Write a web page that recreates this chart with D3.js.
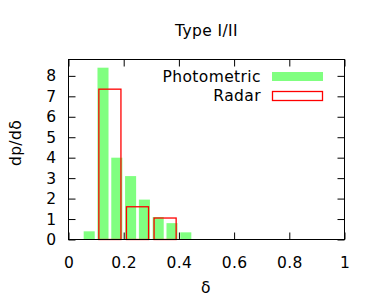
<!DOCTYPE html>
<html><head><meta charset="utf-8">
<script src="https://cdn.jsdelivr.net/npm/d3@7"></script>
<style>body{margin:0;background:#fff}svg{display:block}text{font-family:"DejaVu Sans",sans-serif;fill:#000;letter-spacing:0.4px}</style>
</head><body>
<script>
const title = "Type I/II";
const xLabel = "δ";
const yLabel = "dp/dδ";
const photoCenters = [0.075, 0.125, 0.175, 0.225, 0.275, 0.325, 0.375, 0.425];
const photoValues = [0.4, 8.4, 4.0, 3.1, 1.95, 1.1, 0.8, 0.35];
const radarCenters = [0.15, 0.25, 0.35];
const radarValues = [7.35, 1.6, 1.05];
const xTicks = [0, 0.2, 0.4, 0.6, 0.8, 1];
const xTickLabels = ["0", "0.2", "0.4", "0.6", "0.8", "1"];
const yTicks = [0, 1, 2, 3, 4, 5, 6, 7, 8];
const seriesNames = ["Photometric", "Radar"];

const W = 375, H = 300;
const L = 68.5, R = 344.5, T = 59.5, B = 239.5;
const photoWidth = 0.04, radarWidth = 0.08;
const FS = "15.5px";

const svg = d3.select("body").append("svg").attr("width", W).attr("height", H);
const x = d3.scaleLinear().domain([0, 1]).range([L, R]);
const y = d3.scaleLinear().domain([0, 8.8]).range([B, T]);

// photometric bars
svg.append("g").selectAll("rect").data(photoCenters).join("rect")
  .attr("x", (d) => x(d - photoWidth / 2))
  .attr("width", (d) => x(d + photoWidth / 2) - x(d - photoWidth / 2))
  .attr("y", (d, i) => y(photoValues[i]))
  .attr("height", (d, i) => y(0) - y(photoValues[i]))
  .attr("fill", "#80ff80");

// radar boxes
svg.append("g").selectAll("rect").data(radarCenters).join("rect")
  .attr("x", (d) => x(d - radarWidth / 2))
  .attr("width", (d) => x(d + radarWidth / 2) - x(d - radarWidth / 2))
  .attr("y", (d, i) => y(radarValues[i]))
  .attr("height", (d, i) => y(0) - y(radarValues[i]))
  .attr("fill", "none").attr("stroke", "#ff0000").attr("stroke-width", 1.3);

// axes via d3 axis (inward ticks)
const tl = 7;
svg.append("g").attr("transform", `translate(0,${B})`)
  .call(d3.axisBottom(x).tickValues(xTicks).tickFormat((d, i) => xTickLabels[i]).tickSizeInner(-tl).tickSizeOuter(0).tickPadding(tl + 10))
  .call(g => { g.select(".domain").remove(); g.selectAll("text").style("font-size", FS).attr("font-family", "DejaVu Sans"); });
svg.append("g").attr("transform", `translate(0,${T})`)
  .call(d3.axisTop(x).tickValues(xTicks).tickFormat("").tickSizeInner(-tl).tickSizeOuter(0))
  .call(g => g.select(".domain").remove());
svg.append("g").attr("transform", `translate(${L},0)`)
  .call(d3.axisLeft(y).tickValues(yTicks).tickFormat(d3.format("d")).tickSizeInner(-tl).tickSizeOuter(0).tickPadding(tl + 5))
  .call(g => { g.select(".domain").remove(); g.selectAll("text").style("font-size", FS).attr("font-family", "DejaVu Sans"); });
svg.append("g").attr("transform", `translate(${R},0)`)
  .call(d3.axisRight(y).tickValues(yTicks).tickFormat("").tickSizeInner(-tl).tickSizeOuter(0))
  .call(g => g.select(".domain").remove());

svg.append("rect").attr("x", L).attr("y", T).attr("width", R - L).attr("height", B - T)
  .attr("fill", "none").attr("stroke", "#000").attr("stroke-width", 1);

// title and labels
svg.append("text").attr("x", 206.5).attr("y", 36).attr("text-anchor", "middle").style("font-size", FS).text(title);
svg.append("text").attr("x", 206).attr("y", 293).attr("text-anchor", "middle").style("font-size", FS).text(xLabel);
svg.append("text").attr("transform", "translate(21,143) rotate(-90)").attr("text-anchor", "middle").style("font-size", FS).text(yLabel);

// legend
const leg = svg.append("g");
leg.append("text").attr("x", 261).attr("y", 82).attr("text-anchor", "end").style("font-size", FS).text(seriesNames[0]);
leg.append("rect").attr("x", 272).attr("y", 72).attr("width", 51).attr("height", 9).attr("fill", "#80ff80");
leg.append("text").attr("x", 261).attr("y", 101).attr("text-anchor", "end").style("font-size", FS).text(seriesNames[1]);
leg.append("rect").attr("x", 272.5).attr("y", 91.5).attr("width", 50).attr("height", 9).attr("fill", "none").attr("stroke", "#ff0000").attr("stroke-width", 1.3);
</script>
</body></html>
